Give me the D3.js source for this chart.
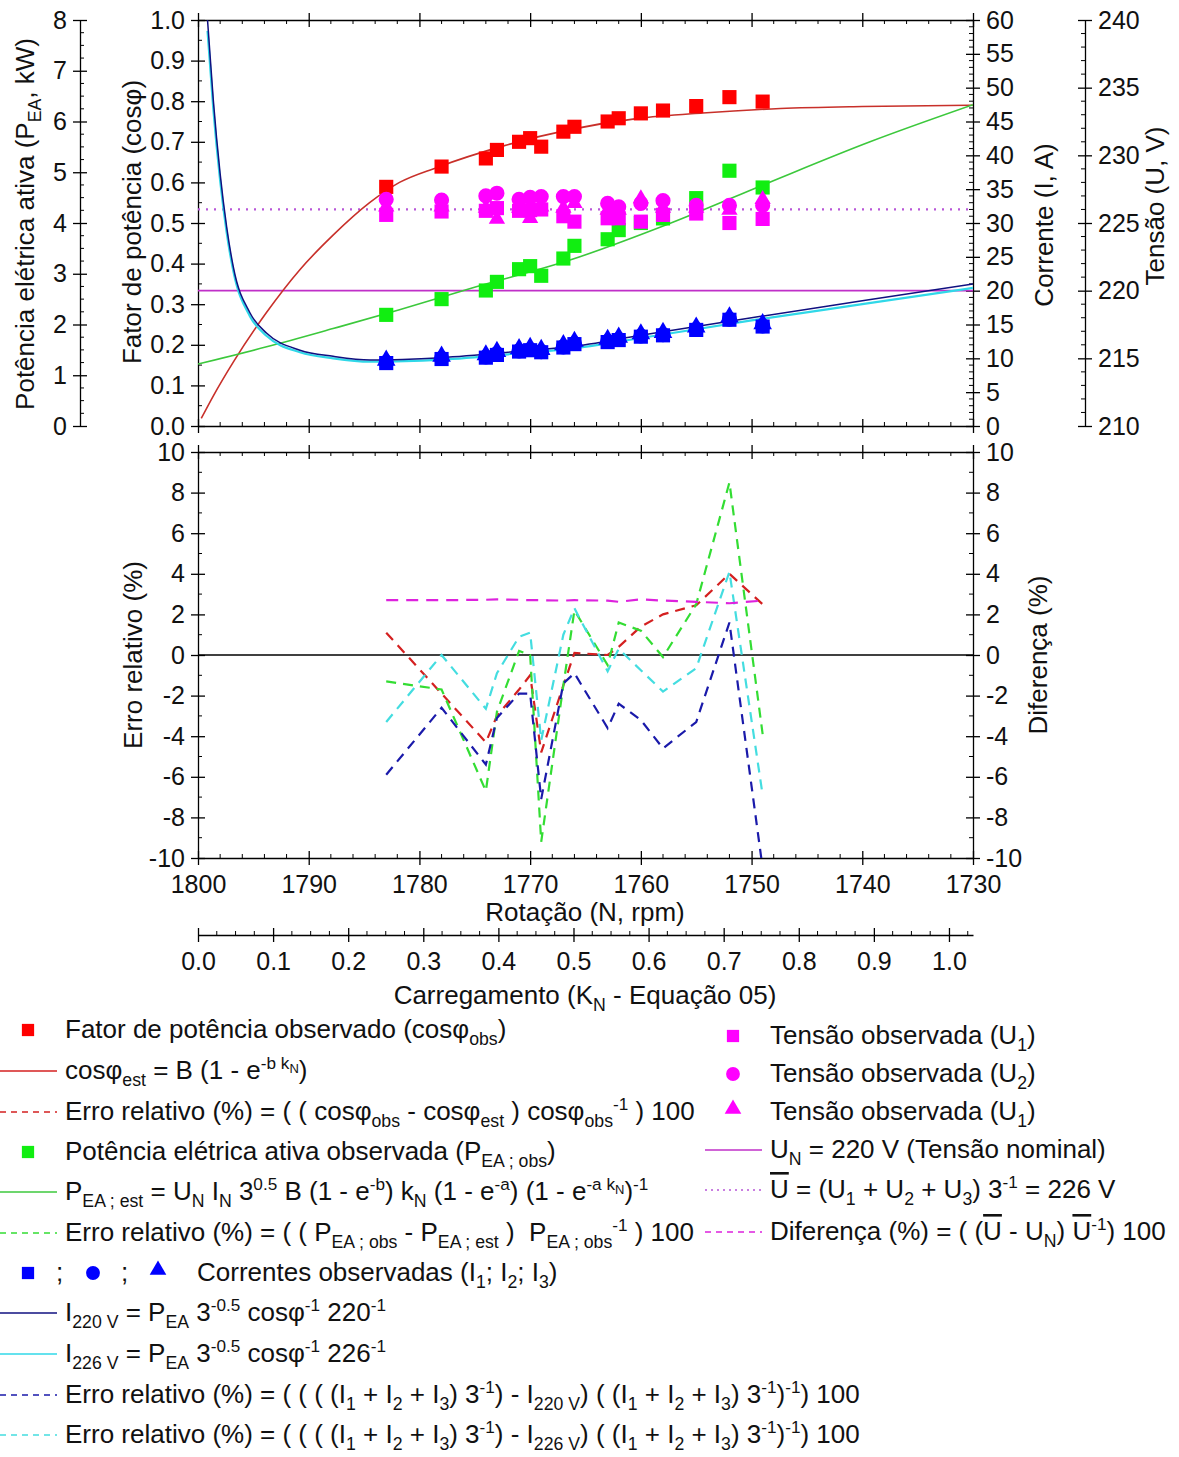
<!DOCTYPE html>
<html>
<head>
<meta charset="utf-8">
<script src="https://cdn.jsdelivr.net/npm/d3@7"></script>
<style>
body { margin: 0; background: #fff; }
text { font-family: Arial, 'Liberation Sans', sans-serif; fill: #111; white-space: pre; }
</style>
</head>
<body>
<script>
// observed points (rotation, rpm)
var rpm = [1783, 1778, 1774, 1773, 1771, 1770, 1769, 1767, 1766, 1763, 1762, 1760, 1758, 1755, 1752, 1749];
var cosObs = [0.589, 0.639, 0.659, 0.680, 0.700, 0.709, 0.688, 0.725, 0.737, 0.750, 0.758, 0.770, 0.777, 0.788, 0.810, 0.799];
var pObs = [2.19, 2.50, 2.67, 2.84, 3.09, 3.15, 2.96, 3.30, 3.55, 3.68, 3.86, 4.00, 4.09, 4.49, 5.03, 4.70];
var u1 = [225.6, 225.85, 225.9, 226.1, 225.9, 225.95, 226.0, 225.5, 225.1, 225.35, 225.35, 225.1, 225.6, 225.7, 225.0, 225.3];
var u2 = [226.75, 226.7, 227.0, 227.2, 226.75, 226.9, 226.95, 226.95, 226.95, 226.45, 226.2, 226.45, 226.65, 226.3, 226.3, 226.3];
var u3 = [226.2, 226.2, 226.1, 225.3, 226.1, 225.35, 226.2, 226.1, 226.45, 225.95, 225.95, 226.8, 226.1, 226.1, 225.95, 226.75];
var i1 = [9.3, 9.9, 10.1, 10.5, 11.0, 11.2, 10.9, 11.6, 12.1, 12.4, 12.7, 13.2, 13.4, 14.2, 15.7, 14.7];
var i2 = [9.4, 10.0, 10.2, 10.7, 11.1, 11.3, 11.0, 11.7, 12.2, 12.5, 12.8, 13.3, 13.5, 14.3, 15.8, 14.8];
var i3 = [9.7, 10.3, 10.5, 11.0, 11.4, 11.6, 11.3, 12.0, 12.5, 12.8, 13.1, 13.6, 13.8, 14.6, 16.1, 15.1];

// fitted curves
var cosEstN = [1799.7, 1798.6, 1796.8, 1793.8, 1790.8, 1787.8, 1784.5, 1781.8, 1778.4, 1772.4, 1766.4, 1760.4, 1754.4, 1747.4, 1740, 1730];
var cosEst = [0.019, 0.075, 0.158, 0.28, 0.385, 0.47, 0.55, 0.60, 0.637, 0.69, 0.73, 0.757, 0.771, 0.782, 0.787, 0.79];
var pEstN = [1800, 1793.8, 1787.8, 1781.8, 1775.4, 1766.4, 1757.4, 1748.3, 1739.3, 1730];
var pEst = [1.22, 1.56, 1.92, 2.29, 2.71, 3.27, 3.99, 4.81, 5.6, 6.33];
var iEstN = [1799.14, 1798.62, 1798.01, 1797.41, 1796.81, 1795.30, 1793.79, 1790.79, 1787.80, 1784.46, 1778, 1770, 1766.4, 1760, 1750, 1740, 1730];
var i220 = [60, 48.2, 37.4, 29.4, 23.5, 16.7, 13.7, 11.2, 10.3, 9.75, 10.1, 11.2, 11.7, 13.4, 16.0, 18.5, 21.0];
var i226 = [58.4, 46.9, 36.4, 28.6, 22.9, 16.2, 13.3, 10.9, 10.0, 9.5, 9.8, 10.9, 11.4, 13.0, 15.6, 18.0, 20.4];
var uNominal = 220, uMean = 226;

// relative errors (%) at the observed rotations
var errCos = [1.1, -1.9, -4.3, -3.0, -1.7, -1.0, -4.8, -1.5, 0.1, 0.0, 0.4, 1.4, 2.0, 2.45, 4.0, 2.5];
var errP = [-1.3, -1.7, -6.7, -2.8, 0.2, 0.0, -9.2, -1.5, 2.2, -0.5, 1.6, 1.2, -0.1, 2.5, 8.5, -3.9];
var errI220 = [-5.9, -2.6, -5.4, -3.1, -1.9, -1.9, -7.1, -1.4, -0.9, -3.6, -2.4, -3.2, -4.6, -3.3, 1.6, -10.5];
var errI226 = [-3.3, 0.0, -2.65, -0.9, 0.9, 1.1, -4.2, 1.0, 2.3, -0.8, 0.3, -0.75, -1.8, -0.65, 4.1, -6.9];
var diffU = [2.70, 2.70, 2.72, 2.74, 2.72, 2.70, 2.70, 2.68, 2.70, 2.68, 2.62, 2.74, 2.68, 2.62, 2.55, 2.68];

// ticks
var rpmTicks = [1800, 1790, 1780, 1770, 1760, 1750, 1740, 1730];
var knTicks = [0, 0.1, 0.2, 0.3, 0.4, 0.5, 0.6, 0.7, 0.8, 0.9, 1.0];
var cosTicks = d3.range(0, 1.001, 0.1);
var pTicks = d3.range(0, 9, 1);
var iTicks = d3.range(0, 61, 5);
var uTicks = d3.range(210, 241, 5);
var errTicks = d3.range(-10, 11, 2);

var W = 1179, H = 1457, X0 = 198, X1 = 973;
var FS = 26, TFS = 25;
var svg = d3.select('body').append('svg').attr('width', W).attr('height', H);

var x = d3.scaleLinear().domain([1800, 1730]).range([X0, X1]);
var kn = d3.scaleLinear().domain([0, 1.032]).range([X0, X1]);
var yCos = d3.scaleLinear().domain([0, 1]).range([426, 20]);
var yP = d3.scaleLinear().domain([0, 8]).range([426, 20]);
var yI = d3.scaleLinear().domain([0, 60]).range([426, 20]);
var yU = d3.scaleLinear().domain([210, 240]).range([426, 20]);
var yErr = d3.scaleLinear().domain([-10, 10]).range([858, 452]);

// text with sub / superscripts
var rich = function(sel, parts, size) {
    var cur = 0;
    parts.forEach(function(p) {
        if (typeof p === 'string') p = [p, ''];
        var off = 0, fs = size;
        if (p[1] === 'sub') { off = size * 0.28; fs = size * 0.68; }
        if (p[1] === 'sup') { off = -size * 0.38; fs = size * 0.66; }
        if (p[1] === 'supsub') { off = -size * 0.22; fs = size * 0.5; }
        var t = sel.append('tspan').attr('dy', off - cur).attr('font-size', fs).text(p[0]);
        if (p[1] === 'ol') t.style('text-decoration', 'overline');
        cur = off;
    });
    return sel;
};

var title = function(tx, ty, rot, parts) {
    var t = svg.append('text')
        .attr('transform', 'translate(' + tx + ',' + ty + ')' + (rot ? ' rotate(-90)' : ''))
        .attr('text-anchor', 'middle')
        .attr('font-size', FS);
    rich(t, parts, FS);
};

// vertical axis: major ticks cross the line, minor ticks on one side
var vAxis = function(scale, xpos, majors, minors, side, fmt, inward) {
    var ax = (side === 'left' ? d3.axisLeft(scale) : d3.axisRight(scale))
        .tickValues(majors).tickSize(7).tickSizeOuter(0).tickPadding(6).tickFormat(fmt);
    var g = svg.append('g')
        .attr('transform', 'translate(' + xpos + ',0)')
        .call(ax)
        .attr('font-size', TFS)
        .attr('font-family', null);
    g.selectAll('.tick line').attr('x1', -7).attr('x2', 7).attr('stroke-width', 1.3);
    g.select('.domain').attr('stroke-width', 1.3);
    g.selectAll('.tick text').attr('fill', '#111');
    g.selectAll('.minor').data(minors).enter().append('line')
        .attr('class', 'minor')
        .attr('y1', scale).attr('y2', scale)
        .attr('x1', 0).attr('x2', inward * 4)
        .attr('stroke', '#000');
    return g;
};

var hAxis = function(scale, ypos, majors, minors, fmt, inward) {
    var g = svg.append('g')
        .attr('transform', 'translate(0,' + ypos + ')')
        .call(d3.axisBottom(scale).tickValues(majors).tickSize(7).tickSizeOuter(0).tickPadding(10).tickFormat(fmt))
        .attr('font-size', TFS)
        .attr('font-family', null);
    g.selectAll('.tick line').attr('y1', -7).attr('y2', 7).attr('stroke-width', 1.3);
    g.select('.domain').attr('stroke-width', 1.3);
    g.selectAll('.tick text').attr('fill', '#111');
    g.selectAll('.minor').data(minors).enter().append('line')
        .attr('class', 'minor')
        .attr('x1', scale).attr('x2', scale)
        .attr('y1', 0).attr('y2', inward * 4)
        .attr('stroke', '#000');
    return g;
};

var rpmMinor = d3.range(1730, 1801, 2).filter(function(d) { return d % 10 !== 0; });
var none = function() { return ''; };
var plain = function(d) { return String(d); };

// top panel axes
vAxis(yCos, X0, cosTicks, d3.range(0.05, 1, 0.1), 'left', d3.format('.1f'), 1);
vAxis(yP, 80, pTicks, d3.range(0.25, 8, 0.25).filter(function(d) { return d % 1 !== 0; }), 'left', plain, 1);
vAxis(yI, X1, iTicks, d3.range(1, 60, 1).filter(function(d) { return d % 5 !== 0; }), 'right', plain, -1);
vAxis(yU, 1085, uTicks, d3.range(211, 240, 1).filter(function(d) { return d % 5 !== 0; }), 'right', plain, -1);
hAxis(x, 20, rpmTicks, rpmMinor, none, 1);
hAxis(x, 426, rpmTicks, rpmMinor, none, -1);

// bottom panel axes
vAxis(yErr, X0, errTicks, d3.range(-9, 10, 2), 'left', plain, 1);
vAxis(yErr, X1, errTicks, d3.range(-9, 10, 2), 'right', plain, -1);
hAxis(x, 452, rpmTicks, rpmMinor, none, 1);
hAxis(x, 858, rpmTicks, rpmMinor, plain, -1);
hAxis(kn, 935, knTicks, d3.range(0.025, 1.03, 0.025).filter(function(d) { return Math.abs(d * 10 - Math.round(d * 10)) > 0.01; }), d3.format('.1f'), -1);

// axis titles
title(34, 224, true, ['Potência elétrica ativa (P', ['EA', 'sub'], ', kW)']);
title(141, 222, true, ['Fator de potência (cosφ)']);
title(1053, 225, true, ['Corrente (I, A)']);
title(1164, 206, true, ['Tensão (U, V)']);
title(142, 655, true, ['Erro relativo (%)']);
title(1047, 655, true, ['Diferença (%)']);
title(585, 921, false, ['Rotação (N, rpm)']);
title(585, 1004, false, ['Carregamento (K', ['N', 'sub'], ' - Equação 05)']);

// clip regions
var defs = svg.append('defs');
defs.append('clipPath').attr('id', 'clipTop').append('rect')
    .attr('x', X0).attr('y', 20).attr('width', X1 - X0).attr('height', 406);
defs.append('clipPath').attr('id', 'clipBot').append('rect')
    .attr('x', X0).attr('y', 452).attr('width', X1 - X0).attr('height', 406);

var gTop = svg.append('g').attr('clip-path', 'url(#clipTop)');
var gBot = svg.append('g').attr('clip-path', 'url(#clipBot)');

var plotLine = function(g, xs, ys, yScale, color, width, dash, curve) {
    var line = d3.line()
        .x(function(d, i) { return x(xs[i]); })
        .y(function(d) { return yScale(d); })
        .curve(curve || d3.curveLinear);
    g.append('path')
        .datum(ys)
        .attr('d', line)
        .attr('fill', 'none')
        .attr('stroke', color)
        .attr('stroke-width', width)
        .attr('stroke-dasharray', dash || null);
};

var hLine = function(g, value, yScale, color, width, dash) {
    g.append('line')
        .attr('x1', x(1800)).attr('x2', x(1730))
        .attr('y1', yScale(value)).attr('y2', yScale(value))
        .attr('stroke', color)
        .attr('stroke-width', width)
        .attr('stroke-dasharray', dash || null);
};

var plotMarks = function(g, xs, ys, yScale, type, size, color) {
    g.append('g').selectAll('path')
        .data(ys).enter().append('path')
        .attr('transform', function(d, i) { return 'translate(' + x(xs[i]) + ',' + yScale(d) + ')'; })
        .attr('d', d3.symbol().type(type).size(size))
        .attr('fill', color);
};

var SQ = 200, CI = 180, TR = 115;

// top panel curves
hLine(gTop, uNominal, yU, '#c030c8', 1.6);
hLine(gTop, uMean, yU, '#b856d8', 2.2, '2,6');
plotLine(gTop, cosEstN, cosEst, yCos, '#c8302a', 1.6, null, d3.curveMonotoneX);
plotLine(gTop, pEstN, pEst, yP, '#3cc83c', 1.6, null, d3.curveMonotoneX);
plotLine(gTop, iEstN, i226, yI, '#30d8e8', 2.2, null, d3.curveMonotoneX);
plotLine(gTop, iEstN, i220, yI, '#101080', 1.5, null, d3.curveMonotoneX);

// top panel markers
plotMarks(gTop, rpm, cosObs, yCos, d3.symbolSquare, SQ, '#ff0000');
plotMarks(gTop, rpm, pObs, yP, d3.symbolSquare, SQ, '#11ee11');
plotMarks(gTop, rpm, u3, yU, d3.symbolTriangle, TR, '#ff00ff');
plotMarks(gTop, rpm, u1, yU, d3.symbolSquare, SQ, '#ff00ff');
plotMarks(gTop, rpm, u2, yU, d3.symbolCircle, CI, '#ff00ff');
plotMarks(gTop, rpm, i3, yI, d3.symbolTriangle, 150, '#0000ff');
plotMarks(gTop, rpm, i1, yI, d3.symbolSquare, SQ, '#0000ff');
plotMarks(gTop, rpm, i2, yI, d3.symbolCircle, CI, '#0000ff');

// bottom panel
hLine(gBot, 0, yErr, '#000', 1.6);
plotLine(gBot, rpm, errCos, yErr, '#d42020', 2.2, '10,7');
plotLine(gBot, rpm, errP, yErr, '#33dd33', 2.2, '10,7');
plotLine(gBot, rpm, errI220, yErr, '#1a1aaa', 2.2, '10,7');
plotLine(gBot, rpm, errI226, yErr, '#44dde0', 2.2, '10,7');
plotLine(gBot, rpm, diffU, yErr, '#dd22dd', 2.2, '12,8');

// legend
var leg = svg.append('g');
var legSym = function(cx, cy, type, color, size) {
    leg.append('path')
        .attr('transform', 'translate(' + cx + ',' + cy + ')')
        .attr('d', d3.symbol().type(type).size(size))
        .attr('fill', color);
};
var legLine = function(x1, x2, cy, color, dash, width) {
    leg.append('line')
        .attr('x1', x1).attr('x2', x2).attr('y1', cy).attr('y2', cy)
        .attr('stroke', color).attr('stroke-width', width || 1.5)
        .attr('stroke-dasharray', dash || null);
};
var legText = function(tx, cy, parts) {
    var t = leg.append('text').attr('x', tx).attr('y', cy + 8).attr('font-size', FS);
    rich(t, parts, FS);
};

var LS = 150;
legSym(28, 1030, d3.symbolSquare, '#ff0000', LS);
legText(65, 1030, ['Fator de potência observado (cosφ', ['obs', 'sub'], ')']);
legLine(0, 57, 1071, '#d42020');
legText(65, 1071, ['cosφ', ['est', 'sub'], ' = B (1 - e', ['-b k', 'sup'], ['N', 'supsub'], ')']);
legLine(0, 57, 1112, '#d42020', '6,5');
legText(65, 1112, ['Erro relativo (%) = ( ( cosφ', ['obs', 'sub'], ' - cosφ', ['est', 'sub'], ' ) cosφ', ['obs', 'sub'], ['-1', 'sup'], ' ) 100']);
legSym(28, 1152, d3.symbolSquare, '#11ee11', LS);
legText(65, 1152, ['Potência elétrica ativa observada (P', ['EA ; obs', 'sub'], ')']);
legLine(0, 57, 1192, '#3cc83c');
legText(65, 1192, ['P', ['EA ; est', 'sub'], ' = U', ['N', 'sub'], ' I', ['N', 'sub'], ' 3', ['0.5', 'sup'], ' B (1 - e', ['-b', 'sup'], ') k', ['N', 'sub'], ' (1 - e', ['-a', 'sup'], ') (1 - e', ['-a k', 'sup'], ['N', 'supsub'], ')', ['-1', 'sup']]);
legLine(0, 57, 1233, '#33dd33', '6,5');
legText(65, 1233, ['Erro relativo (%) = ( ( P', ['EA ; obs', 'sub'], ' - P', ['EA ; est', 'sub'], ' )  P', ['EA ; obs', 'sub'], ['-1', 'sup'], ' ) 100']);
legSym(28, 1273, d3.symbolSquare, '#0000ff', LS);
legText(56, 1273, [';']);
legSym(93, 1273, d3.symbolCircle, '#0000ff', LS);
legText(121, 1273, [';']);
legSym(158, 1270, d3.symbolTriangle, '#0000ff', 120);
legText(197, 1273, ['Correntes observadas (I', ['1', 'sub'], '; I', ['2', 'sub'], '; I', ['3', 'sub'], ')']);
legLine(0, 57, 1313, '#101080');
legText(65, 1313, ['I', ['220 V', 'sub'], ' = P', ['EA', 'sub'], ' 3', ['-0.5', 'sup'], ' cosφ', ['-1', 'sup'], ' 220', ['-1', 'sup']]);
legLine(0, 57, 1354, '#30d8e8');
legText(65, 1354, ['I', ['226 V', 'sub'], ' = P', ['EA', 'sub'], ' 3', ['-0.5', 'sup'], ' cosφ', ['-1', 'sup'], ' 226', ['-1', 'sup']]);
legLine(0, 57, 1395, '#1a1aaa', '6,5');
legText(65, 1395, ['Erro relativo (%) = ( ( ( (I', ['1', 'sub'], ' + I', ['2', 'sub'], ' + I', ['3', 'sub'], ') 3', ['-1', 'sup'], ') - I', ['220 V', 'sub'], ') ( (I', ['1', 'sub'], ' + I', ['2', 'sub'], ' + I', ['3', 'sub'], ') 3', ['-1', 'sup'], ')', ['-1', 'sup'], ') 100']);
legLine(0, 57, 1435, '#44dde0', '6,5');
legText(65, 1435, ['Erro relativo (%) = ( ( ( (I', ['1', 'sub'], ' + I', ['2', 'sub'], ' + I', ['3', 'sub'], ') 3', ['-1', 'sup'], ') - I', ['226 V', 'sub'], ') ( (I', ['1', 'sub'], ' + I', ['2', 'sub'], ' + I', ['3', 'sub'], ') 3', ['-1', 'sup'], ')', ['-1', 'sup'], ') 100']);

legSym(733, 1036, d3.symbolSquare, '#ff00ff', LS);
legText(770, 1036, ['Tensão observada (U', ['1', 'sub'], ')']);
legSym(733, 1074, d3.symbolCircle, '#ff00ff', LS);
legText(770, 1074, ['Tensão observada (U', ['2', 'sub'], ')']);
legSym(733, 1109, d3.symbolTriangle, '#ff00ff', 120);
legText(770, 1112, ['Tensão observada (U', ['1', 'sub'], ')']);
legLine(705, 762, 1150, '#c030c8');
legText(770, 1150, ['U', ['N', 'sub'], ' = 220 V (Tensão nominal)']);
legLine(705, 762, 1190, '#b856d8', '2,4');
legText(770, 1190, [['U', 'ol'], ' = (U', ['1', 'sub'], ' + U', ['2', 'sub'], ' + U', ['3', 'sub'], ') 3', ['-1', 'sup'], ' = 226 V']);
legLine(705, 762, 1232, '#dd22dd', '6,5');
legText(770, 1232, ['Diferença (%) = ( (', ['U', 'ol'], ' - U', ['N', 'sub'], ') ', ['U', 'ol'], ['-1', 'sup'], ') 100']);
</script>
</body>
</html>
